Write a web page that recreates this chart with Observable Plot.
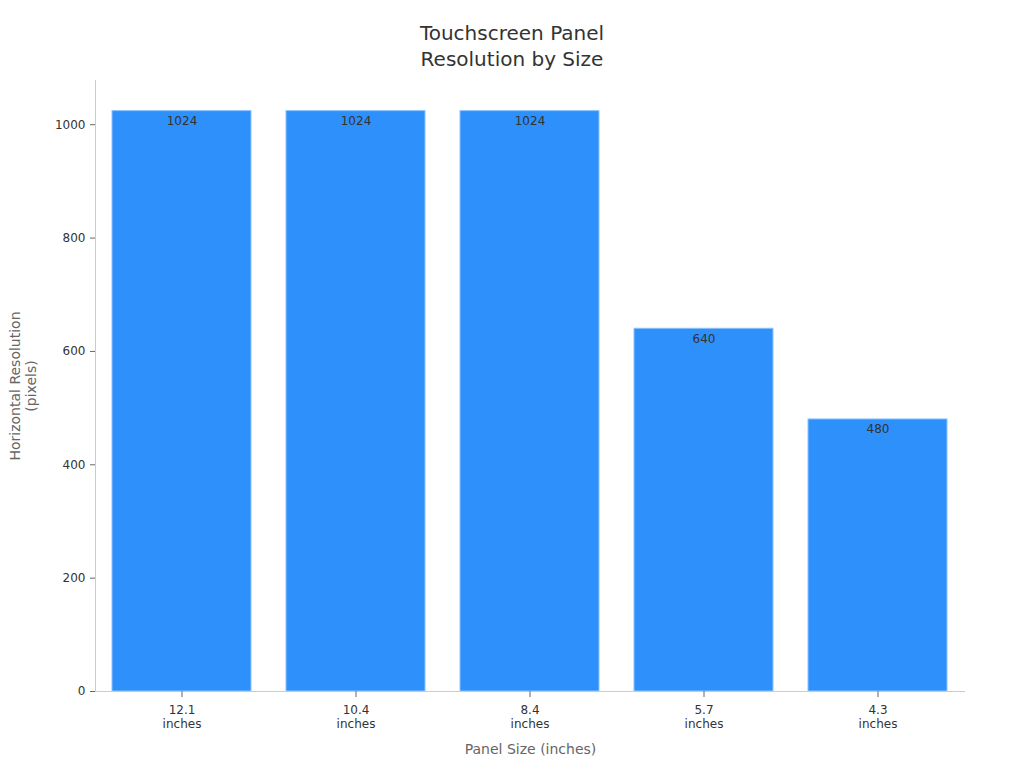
<!DOCTYPE html>
<html>
<head>
<meta charset="utf-8">
<script src="https://cdn.jsdelivr.net/npm/d3@7"></script>
<script src="https://cdn.jsdelivr.net/npm/@observablehq/plot@0.6"></script>
<style>
  html, body { margin: 0; padding: 0; background: #fff; }
  body { width: 1024px; height: 768px; overflow: hidden; font-family: "DejaVu Sans", sans-serif; }
  #title { height: 76px; box-sizing: border-box; padding-top: 20px; text-align: center; font-size: 20px; line-height: 26px; color: #333; }
  svg { display: block; }
</style>
</head>
<body>
<div id="title">Touchscreen Panel<br>Resolution by Size</div>
<div id="chart"></div>
<script>
const sizes = ["12.1", "10.4", "8.4", "5.7", "4.3"];
const resolutions = [1024, 1024, 1024, 640, 480];
const yTicks = [0, 200, 400, 600, 800, 1000];
const xLabel = "Panel Size (inches)";
const yLabel = "Horizontal Resolution\n(pixels)";

const data = sizes.map((s, i) => ({size: s, res: resolutions[i]}));

const chart = Plot.plot({
  width: 1024,
  height: 692,
  marginTop: 4,
  marginBottom: 77,
  marginLeft: 95,
  marginRight: 59,
  style: {fontFamily: "DejaVu Sans, sans-serif", fontSize: "12px", color: "#333", background: "#fff"},
  x: {domain: sizes, paddingInner: 0.2, paddingOuter: 0.1, label: null},
  y: {domain: [0, 1078], label: null},
  marks: [
    Plot.barY(data, {x: "size", y: "res", fill: "#2E90FA", stroke: "#8CC4FF", strokeWidth: 1}),
    Plot.text(data, {x: "size", y: "res", text: d => String(d.res), dy: 10, fill: "#333", fontSize: 12}),
    Plot.frame({anchor: "left", stroke: "#ccc"}),
    Plot.ruleY([0], {stroke: "#ccc"}),
    Plot.axisY({ticks: yTicks, tickFormat: d => String(d), tickSize: 5, tickPadding: 5, stroke: "#666", fill: "#333", fontSize: 12, label: null}),
    Plot.axisX({tickSize: 6, tickPadding: 7, stroke: "#666", fill: "#333", fontSize: 12, label: null,
      tickFormat: d => d + "\ninches", lineHeight: 1.15}),
    Plot.text([xLabel], {frameAnchor: "bottom", dy: 62, fill: "#666", fontSize: 14}),
    Plot.text([yLabel], {frameAnchor: "left", textAnchor: "middle", dx: -73, rotate: -90, fill: "#666", fontSize: 14, lineHeight: 1.15})
  ]
});
document.getElementById("chart").appendChild(chart);
</script>
</body>
</html>
